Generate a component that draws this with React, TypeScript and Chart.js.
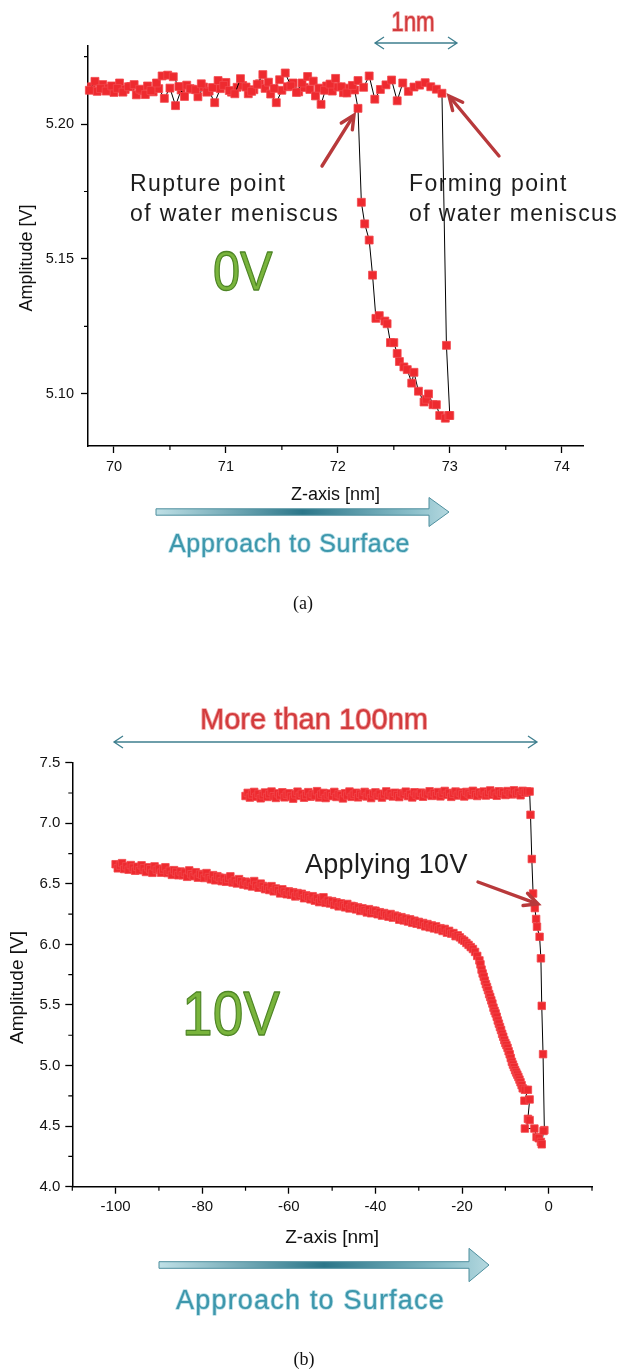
import React, { useEffect, useRef } from 'react';
import { Chart, registerables } from 'chart.js';

Chart.register(...registerables);

// ---------------- Panel (a): 0 V ----------------
const A_APPROACH_X = [
  69.78, 69.83, 69.88, 69.93, 69.98, 70.03, 70.08, 70.13, 70.18, 70.23,
  70.28, 70.33, 70.38, 70.43, 70.48, 70.53, 70.58, 70.63, 70.68, 70.73,
  70.78, 70.83, 70.88, 70.93, 70.98, 71.03, 71.08, 71.13, 71.18, 71.23,
  71.28, 71.33, 71.38, 71.43, 71.48, 71.53, 71.58, 71.63, 71.68, 71.73,
  71.78, 71.83, 71.88, 71.93, 71.98, 72.03, 72.08, 72.13, 72.18, 72.23,
  72.28, 72.33, 72.38, 72.43, 72.48, 72.53, 72.58, 72.63, 72.68, 72.73,
  72.78, 72.83, 72.88, 72.93, 72.97, 73.0,
];
const A_APPROACH_Y = [
  5.2125, 5.2158, 5.2131, 5.2122, 5.2141, 5.2132, 5.2118, 5.2138, 5.2146, 5.2129,
  5.2109, 5.2124, 5.2152, 5.2178, 5.2181, 5.2175, 5.2139, 5.2102, 5.2131, 5.2127,
  5.2149, 5.2118, 5.2135, 5.2161, 5.2143, 5.2124, 5.2112, 5.2168, 5.2137, 5.2121,
  5.2147, 5.2183, 5.2155, 5.2132, 5.2164, 5.2189, 5.2141, 5.2117, 5.2152, 5.2176,
  5.2159, 5.2133, 5.2125, 5.2148, 5.2169, 5.2138, 5.2115, 5.2143, 5.2161, 5.2136,
  5.2178, 5.2092, 5.2128, 5.2145, 5.2163, 5.2086, 5.2152, 5.2121, 5.2137, 5.2144,
  5.2153, 5.2138, 5.2129, 5.2114, 5.118, 5.092,
];
const A_RETRACT_X = [
  69.8, 69.85, 69.9, 69.95, 70.0, 70.05, 70.1, 70.15, 70.2, 70.25,
  70.3, 70.35, 70.4, 70.45, 70.5, 70.55, 70.6, 70.65, 70.7, 70.75,
  70.8, 70.85, 70.9, 70.95, 71.0, 71.05, 71.1, 71.15, 71.2, 71.25,
  71.3, 71.35, 71.4, 71.45, 71.5, 71.55, 71.6, 71.65, 71.7, 71.75,
  71.8, 71.85, 71.9, 71.95, 72.0, 72.05, 72.1, 72.15,
  72.18, 72.21, 72.24, 72.28, 72.31, 72.34, 72.37, 72.42, 72.44, 72.47,
  72.5, 72.53, 72.55, 72.59, 72.62, 72.66, 72.68, 72.72, 72.77, 72.79,
  72.81, 72.85, 72.88, 72.91, 72.96, 72.99,
];
const A_RETRACT_Y = [
  5.2138, 5.2121, 5.2146, 5.2133, 5.2117, 5.2152, 5.2128, 5.2139, 5.2108, 5.2124,
  5.2141, 5.2119, 5.2131, 5.2095, 5.2133, 5.2068, 5.2126, 5.2144, 5.2129, 5.2101,
  5.2137, 5.2122, 5.2079, 5.2131, 5.2154, 5.2118, 5.2136, 5.2143, 5.2112, 5.2127,
  5.2149, 5.2132, 5.2111, 5.2079, 5.2125, 5.2138, 5.2152, 5.2119, 5.2135, 5.2128,
  5.2104, 5.2073, 5.2141, 5.2122, 5.2137, 5.2116, 5.2133, 5.2126,
  5.2058, 5.171, 5.163, 5.157, 5.144, 5.128, 5.129, 5.127, 5.126, 5.119,
  5.119, 5.115, 5.112, 5.11, 5.109, 5.104, 5.108, 5.101, 5.097, 5.098,
  5.1, 5.096, 5.096, 5.092, 5.091, 5.092,
];
const A_X_TICKS = [70, 71, 72, 73, 74];
const A_Y_TICKS = [5.1, 5.15, 5.2];
const A_X_MINOR = [70.5, 71.5, 72.5, 73.5];
const A_Y_MINOR = [5.125, 5.175, 5.225];
const A_X_RANGE = [69.768, 74.19];
const A_Y_RANGE = [5.0807, 5.2289];

// ---------------- Panel (b): 10 V ----------------
const B_UPPER_X = [
  -70, -69.5, -69, -68.5, -68, -67.5, -67, -66.5, -66, -65.5,
  -65, -64.5, -64, -63.5, -63, -62.5, -62, -61.5, -61, -60.5,
  -60, -59.5, -59, -58.5, -58, -57.5, -57, -56.5, -56, -55.5,
  -55, -54.5, -54, -53.5, -53, -52.5, -52, -51.5, -51, -50.5,
  -50, -49.5, -49, -48.5, -48, -47.5, -47, -46.5, -46, -45.5,
  -45, -44.5, -44, -43.5, -43, -42.5, -42, -41.5, -41, -40.5,
  -40, -39.5, -39, -38.5, -38, -37.5, -37, -36.5, -36, -35.5,
  -35, -34.5, -34, -33.5, -33, -32.5, -32, -31.5, -31, -30.5,
  -30, -29.5, -29, -28.5, -28, -27.5, -27, -26.5, -26, -25.5,
  -25, -24.5, -24, -23.5, -23, -22.5, -22, -21.5, -21, -20.5,
  -20, -19.5, -19, -18.5, -18, -17.5, -17, -16.5, -16, -15.5,
  -15, -14.5, -14, -13.5, -13, -12.5, -12, -11.5, -11, -10.5,
  -10, -9.5, -9, -8.5, -8, -7.5, -7, -6.5, -6, -5.5,
  -5, -4.4,
  -4.2, -3.9, -3.6, -3.2, -2.9, -2.7, -2.1, -1.8, -1.6, -1.3, -1.0,
];
const B_UPPER_Y = [
  7.225, 7.251, 7.212, 7.238, 7.259, 7.219, 7.243, 7.206, 7.231, 7.254,
  7.217, 7.24, 7.262, 7.223, 7.209, 7.247, 7.229, 7.256, 7.214, 7.236,
  7.248, 7.221, 7.203, 7.239, 7.261, 7.226, 7.244, 7.211, 7.233, 7.257,
  7.219, 7.242, 7.228, 7.265, 7.213, 7.237, 7.251, 7.208, 7.231, 7.246,
  7.224, 7.259, 7.217, 7.241, 7.232, 7.205, 7.248, 7.229, 7.262, 7.218,
  7.237, 7.252, 7.214, 7.243, 7.227, 7.259, 7.221, 7.246, 7.208, 7.239,
  7.255, 7.226, 7.244, 7.212, 7.238, 7.263, 7.229, 7.247, 7.221, 7.252,
  7.233, 7.216, 7.249, 7.238, 7.261, 7.224, 7.242, 7.213, 7.256, 7.235,
  7.227, 7.253, 7.219, 7.246, 7.238, 7.264, 7.226, 7.249, 7.231, 7.258,
  7.222, 7.245, 7.267, 7.234, 7.251, 7.218, 7.243, 7.262, 7.229, 7.254,
  7.238, 7.221, 7.259, 7.246, 7.232, 7.268, 7.241, 7.225, 7.255, 7.237,
  7.262, 7.229, 7.248, 7.271, 7.236, 7.253, 7.227, 7.264, 7.244, 7.258,
  7.233, 7.266, 7.249, 7.238, 7.272, 7.245, 7.259, 7.231, 7.268, 7.252,
  7.263, 7.262,
  7.07, 6.705, 6.42, 6.3, 6.21, 6.146, 6.063, 5.885, 5.493, 5.094, 4.467,
];
const B_LOWER_X = [
  -100, -99.5, -99, -98.5, -98, -97.5, -97, -96.5, -96, -95.5,
  -95, -94.5, -94, -93.5, -93, -92.5, -92, -91.5, -91, -90.5,
  -90, -89.5, -89, -88.5, -88, -87.5, -87, -86.5, -86, -85.5,
  -85, -84.5, -84, -83.5, -83, -82.5, -82, -81.5, -81, -80.5,
  -80, -79.5, -79, -78.5, -78, -77.5, -77, -76.5, -76, -75.5,
  -75, -74.5, -74, -73.5, -73, -72.5, -72, -71.5, -71, -70.5,
  -70, -69.5, -69, -68.5, -68, -67.5, -67, -66.5, -66, -65.5,
  -65, -64.5, -64, -63.5, -63, -62.5, -62, -61.5, -61, -60.5,
  -60, -59.5, -59, -58.5, -58, -57.5, -57, -56.5, -56, -55.5,
  -55, -54.5, -54, -53.5, -53, -52.5, -52, -51.5, -51, -50.5,
  -50, -49.5, -49, -48.5, -48, -47.5, -47, -46.5, -46, -45.5,
  -45, -44.5, -44, -43.5, -43, -42.5, -42, -41.5, -41, -40.5,
  -40, -39.5, -39, -38.5, -38, -37.5, -37, -36.5, -36, -35.5,
  -35, -34.5, -34, -33.5, -33, -32.5, -32, -31.5, -31, -30.5,
  -30, -29.5, -29, -28.5, -28, -27.5, -27, -26.5, -26, -25.5,
  -25, -24.5, -24, -23.5, -23, -22.5, -22, -21.5, -21,
  -20.5, -20, -19.5, -19, -18.5, -18, -17.5, -17, -16.5,
  -16, -15.75, -15.5, -15.25, -15, -14.75, -14.5, -14.25, -14, -13.75,
  -13.5, -13.25, -13, -12.75, -12.5, -12.25, -12, -11.75, -11.5, -11.25,
  -11, -10.75, -10.5, -10.25, -10, -9.75, -9.5, -9.25, -9, -8.75,
  -8.5, -8.25, -8, -7.75, -7.5, -7.25, -7, -6.75, -6.5, -6.25, -6,
  -5.5, -4.8, -5.6, -4.4, -4.8, -4.4, -5.5, -3.3, -2.8, -2.3, -1.8, -1.6, -1.2,
];
const B_LOWER_Y = [
  6.662, 6.628, 6.651, 6.671, 6.622, 6.646, 6.617, 6.655, 6.634, 6.608,
  6.641, 6.612, 6.653, 6.629, 6.598, 6.637, 6.62, 6.591, 6.644, 6.615,
  6.626, 6.592, 6.618, 6.637, 6.589, 6.608, 6.574, 6.613, 6.598, 6.571,
  6.602, 6.571, 6.593, 6.558, 6.611, 6.579, 6.563, 6.596, 6.551, 6.582,
  6.574, 6.548, 6.589, 6.556, 6.537, 6.572, 6.529, 6.563, 6.551, 6.522,
  6.549, 6.517, 6.541, 6.562, 6.511, 6.528, 6.503, 6.539, 6.521, 6.494,
  6.518, 6.487, 6.509, 6.478, 6.523, 6.491, 6.468, 6.502, 6.483, 6.456,
  6.474, 6.449, 6.481, 6.438, 6.462, 6.447, 6.421, 6.455, 6.436, 6.414,
  6.438, 6.409, 6.431, 6.396, 6.424, 6.402, 6.418, 6.381, 6.405, 6.393,
  6.372, 6.398, 6.361, 6.384, 6.349, 6.371, 6.389, 6.343, 6.362, 6.338,
  6.357, 6.326, 6.348, 6.314, 6.339, 6.321, 6.306, 6.334, 6.297, 6.318,
  6.314, 6.289, 6.306, 6.276, 6.298, 6.281, 6.264, 6.291, 6.257, 6.279,
  6.278, 6.249, 6.266, 6.238, 6.259, 6.244, 6.229, 6.251, 6.221, 6.238,
  6.231, 6.204, 6.225, 6.198, 6.214, 6.189, 6.207, 6.178, 6.196, 6.171,
  6.186, 6.161, 6.177, 6.149, 6.168, 6.141, 6.157, 6.132, 6.149, 6.124,
  6.134, 6.111, 6.128, 6.097, 6.112, 6.089, 6.094, 6.068, 6.075,
  6.058, 6.041, 6.03, 6.012, 5.996, 5.978, 5.962, 5.938, 5.905,
  5.868, 5.835, 5.792, 5.76, 5.733, 5.701, 5.672, 5.648, 5.622, 5.59,
  5.566, 5.538, 5.512, 5.478, 5.452, 5.43, 5.403, 5.372, 5.346, 5.318,
  5.293, 5.262, 5.238, 5.21, 5.186, 5.168, 5.146, 5.118, 5.093, 5.062,
  5.031, 5.008, 4.986, 4.962, 4.943, 4.925, 4.906, 4.884, 4.862, 4.838, 4.812,
  4.8, 4.8, 4.71, 4.72, 4.56, 4.55, 4.48, 4.48, 4.41, 4.4, 4.37, 4.35, 4.46,
];
const B_X_TICKS = [-100, -80, -60, -40, -20, 0];
const B_Y_TICKS = [4.0, 4.5, 5.0, 5.5, 6.0, 6.5, 7.0, 7.5];
const B_X_MINOR = [-110, -90, -70, -50, -30, -10, 10];
const B_Y_MINOR = [4.25, 4.75, 5.25, 5.75, 6.25, 6.75, 7.25];
const B_X_RANGE = [-110, 10];
const B_Y_RANGE = [4.0, 7.5];

// ---------------- helpers ----------------
const FONT = '"Liberation Sans", Arial, Helvetica, sans-serif';
const SERIF = '"Liberation Serif", "Times New Roman", serif';
const zip = (xs: number[], ys: number[]) => xs.map((x, i) => ({ x, y: ys[i] }));

type TOpt = {
  size: number; color: string; family?: string; align?: CanvasTextAlign;
  baseline?: CanvasTextBaseline; sx?: number; sy?: number; ls?: number;
  stroke?: string; sw?: number; strokeAfter?: boolean; rotate?: number;
};
function drawText(ctx: CanvasRenderingContext2D, s: string, x: number, y: number, o: TOpt) {
  ctx.save();
  ctx.translate(x, y);
  if (o.rotate) ctx.rotate(o.rotate);
  ctx.scale(o.sx ?? 1, o.sy ?? 1);
  ctx.font = `${o.size}px ${o.family ?? FONT}`;
  ctx.textAlign = o.align ?? 'left';
  ctx.textBaseline = o.baseline ?? 'alphabetic';
  (ctx as any).letterSpacing = o.ls ? `${o.ls}px` : '0px';
  ctx.lineJoin = 'round';
  if (o.stroke && !o.strokeAfter) {
    ctx.lineWidth = o.sw ?? 1;
    ctx.strokeStyle = o.stroke;
    ctx.strokeText(s, 0, 0);
  }
  ctx.fillStyle = o.color;
  ctx.fillText(s, 0, 0);
  if (o.stroke && o.strokeAfter) {
    ctx.lineWidth = o.sw ?? 1;
    ctx.strokeStyle = o.stroke;
    ctx.strokeText(s, 0, 0);
  }
  ctx.restore();
}

function doubleArrow(ctx: CanvasRenderingContext2D, x1: number, x2: number, y: number) {
  ctx.save();
  ctx.strokeStyle = '#3f7f8f';
  ctx.lineWidth = 1.3;
  ctx.beginPath();
  ctx.moveTo(x1, y); ctx.lineTo(x2, y);
  ctx.moveTo(x1 + 9, y - 6); ctx.lineTo(x1, y); ctx.lineTo(x1 + 9, y + 6);
  ctx.moveTo(x2 - 9, y - 6); ctx.lineTo(x2, y); ctx.lineTo(x2 - 9, y + 6);
  ctx.stroke();
  ctx.restore();
}

function pointer(ctx: CanvasRenderingContext2D, x1: number, y1: number, x2: number, y2: number) {
  const a = Math.atan2(y2 - y1, x2 - x1);
  const L = 15, w = 0.45;
  ctx.save();
  ctx.strokeStyle = '#b8393b';
  ctx.lineWidth = 3.4;
  ctx.lineCap = 'round';
  ctx.lineJoin = 'miter';
  ctx.beginPath();
  ctx.moveTo(x1, y1); ctx.lineTo(x2 - Math.cos(a) * 2, y2 - Math.sin(a) * 2);
  ctx.stroke();
  ctx.beginPath();
  ctx.moveTo(x2 - L * Math.cos(a - w), y2 - L * Math.sin(a - w));
  ctx.lineTo(x2, y2);
  ctx.lineTo(x2 - L * Math.cos(a + w), y2 - L * Math.sin(a + w));
  ctx.stroke();
  ctx.restore();
}

function approachArrow(ctx: CanvasRenderingContext2D, x1: number, xb: number, xt: number, yc: number, sh: number, hh: number) {
  ctx.save();
  const g = ctx.createLinearGradient(x1, 0, xt, 0);
  g.addColorStop(0, '#bfe0e6');
  g.addColorStop(0.5, '#2b7689');
  g.addColorStop(0.88, '#8cc0cb');
  g.addColorStop(1, '#b4d8df');
  ctx.beginPath();
  ctx.moveTo(x1, yc - sh); ctx.lineTo(xb, yc - sh); ctx.lineTo(xb, yc - hh);
  ctx.lineTo(xt, yc); ctx.lineTo(xb, yc + hh); ctx.lineTo(xb, yc + sh);
  ctx.lineTo(x1, yc + sh); ctx.closePath();
  ctx.fillStyle = g;
  ctx.fill();
  ctx.strokeStyle = '#4f8f9e';
  ctx.lineWidth = 1;
  ctx.stroke();
  ctx.restore();
}

function minorTicks(xMinor: number[], yMinor: number[]) {
  return {
    id: 'minorTicks',
    afterDraw(chart: any) {
      const { ctx, chartArea, scales } = chart;
      ctx.save();
      ctx.strokeStyle = '#000';
      ctx.lineWidth = 1.2;
      ctx.beginPath();
      xMinor.forEach((v) => {
        const p = scales.x.getPixelForValue(v);
        ctx.moveTo(p, chartArea.bottom); ctx.lineTo(p, chartArea.bottom + 4);
      });
      yMinor.forEach((v) => {
        const p = scales.y.getPixelForValue(v);
        ctx.moveTo(chartArea.left, p); ctx.lineTo(chartArea.left - 4, p);
      });
      ctx.stroke();
      ctx.restore();
    },
  };
}

const seriesStyle = (r: number) => ({
  showLine: true,
  borderColor: '#000',
  borderWidth: 1,
  pointStyle: 'rect' as const,
  pointRadius: r,
  pointBackgroundColor: '#ee2a2f',
  pointBorderColor: '#f2484c',
  pointBorderWidth: 0.8,
  tension: 0,
  clip: false as const,
});

function axisOpts(o: {
  range: number[]; ticks: number[]; fmt: (v: number) => string; size: number; pad: number;
  fixed: number; horizontal: boolean; title?: string; titleSize?: number; titlePadBottom?: number;
}) {
  return {
    type: 'linear' as const,
    min: o.range[0],
    max: o.range[1],
    afterBuildTicks: (s: any) => { s.ticks = o.ticks.map((value) => ({ value })); },
    afterFit: (s: any) => { if (o.horizontal) s.height = o.fixed; else s.width = o.fixed; },
    ticks: {
      autoSkip: false, maxRotation: 0, includeBounds: false,
      color: '#111', padding: o.pad,
      font: { size: o.size, family: FONT },
      callback: (v: any) => o.fmt(Number(v)),
    },
    grid: { drawOnChartArea: false, drawTicks: true, tickLength: 7, tickColor: '#000', tickWidth: 1.3 },
    border: { display: true, color: '#000', width: 1.5 },
    title: o.title
      ? { display: true, text: o.title, color: '#111', font: { size: o.titleSize, family: FONT }, padding: { top: 0, bottom: o.titlePadBottom } }
      : { display: false },
  };
}

const annotationsA = {
  id: 'annotationsA',
  afterDraw(chart: any) {
    const ctx: CanvasRenderingContext2D = chart.ctx;
    drawText(ctx, 'Amplitude [V]', 27, 258, { size: 18, color: '#111', align: 'center', baseline: 'middle', rotate: -Math.PI / 2 });
    drawText(ctx, '1nm', 413, 31, { size: 26, color: '#d23b3d', align: 'center', sx: 0.86, sy: 1.05, stroke: 'rgba(240,150,150,0.9)', sw: 1.6 });
    doubleArrow(ctx, 375, 457, 43);
    drawText(ctx, 'Rupture point', 130, 191, { size: 23, color: '#1c1c1c', ls: 1.4 });
    drawText(ctx, 'of water meniscus', 130, 221, { size: 23, color: '#1c1c1c', ls: 1.4 });
    drawText(ctx, 'Forming point', 409, 191, { size: 23, color: '#1c1c1c', ls: 1.4 });
    drawText(ctx, 'of water meniscus', 409, 221, { size: 23, color: '#1c1c1c', ls: 1.4 });
    pointer(ctx, 322, 166, 354, 115);
    pointer(ctx, 499, 156, 449, 96);
    drawText(ctx, '0V', 213, 290, { size: 56, color: '#79b43c', sx: 0.87, stroke: '#4e8526', sw: 1.3, strokeAfter: true });
    approachArrow(ctx, 156, 429, 449, 512, 3.2, 14.5);
    drawText(ctx, 'Approach to Surface', 169, 552, { size: 25, color: '#3d97ac', ls: 0.7, stroke: 'rgba(170,215,225,0.9)', sw: 1.6 });
    drawText(ctx, '(a)', 303, 604, { size: 18, color: '#111', family: SERIF, align: 'center', baseline: 'middle' });
  },
};

const annotationsB = {
  id: 'annotationsB',
  afterDraw(chart: any) {
    const ctx: CanvasRenderingContext2D = chart.ctx;
    drawText(ctx, 'Amplitude [V]', 17.5, 347.5, { size: 19, color: '#111', align: 'center', baseline: 'middle', rotate: -Math.PI / 2 });
    drawText(ctx, 'More than 100nm', 314, 89, { size: 28, color: '#d23b3d', align: 'center', sx: 1.04, sy: 1.05, stroke: 'rgba(240,150,150,0.9)', sw: 1.6 });
    doubleArrow(ctx, 114, 537, 102);
    drawText(ctx, 'Applying 10V', 305, 233, { size: 27, color: '#1c1c1c', ls: 0.3 });
    pointer(ctx, 478, 242, 538, 264);
    drawText(ctx, '10V', 182, 395, { size: 63, color: '#79b43c', sx: 0.875, stroke: '#4e8526', sw: 1.3, strokeAfter: true });
    approachArrow(ctx, 159, 469, 489, 625, 3.3, 16.7);
    drawText(ctx, 'Approach to Surface', 176, 669, { size: 27, color: '#3d97ac', ls: 1.2, stroke: 'rgba(170,215,225,0.9)', sw: 1.6 });
    drawText(ctx, '(b)', 304, 720, { size: 18, color: '#111', family: SERIF, align: 'center', baseline: 'middle' });
  },
};

function Panel(props: { height: number; top: number; make: (c: HTMLCanvasElement) => Chart }) {
  const ref = useRef<HTMLCanvasElement | null>(null);
  useEffect(() => {
    if (!ref.current) return;
    const chart = props.make(ref.current);
    return () => chart.destroy();
  }, []);
  return (
    <canvas
      ref={ref}
      width={640}
      height={props.height}
      style={{ position: 'absolute', left: 0, top: props.top, width: 640, height: props.height, display: 'block' }}
    />
  );
}

function makeA(c: HTMLCanvasElement) {
  return new Chart(c, {
    type: 'line',
    data: {
      datasets: [
        { data: zip(A_APPROACH_X, A_APPROACH_Y), ...seriesStyle(5.6) },
        { data: zip(A_RETRACT_X, A_RETRACT_Y), ...seriesStyle(5.6) },
      ],
    },
    options: {
      responsive: false,
      animation: false,
      events: [],
      layout: { padding: { left: 0, top: 46, right: 57, bottom: 0 } },
      scales: {
        x: axisOpts({ range: A_X_RANGE, ticks: A_X_TICKS, fmt: (v) => String(v), size: 14.5, pad: 5, fixed: 194, horizontal: true, title: 'Z-axis [nm]', titleSize: 18, titlePadBottom: 134 }),
        y: axisOpts({ range: A_Y_RANGE, ticks: A_Y_TICKS, fmt: (v) => v.toFixed(2), size: 14.5, pad: 7, fixed: 88, horizontal: false }),
      },
      plugins: { legend: { display: false }, tooltip: { enabled: false } },
    } as any,
    plugins: [minorTicks(A_X_MINOR, A_Y_MINOR), annotationsA],
  });
}

function makeB(c: HTMLCanvasElement) {
  return new Chart(c, {
    type: 'line',
    data: {
      datasets: [
        { data: zip(B_LOWER_X, B_LOWER_Y), ...seriesStyle(5.3) },
        { data: zip(B_UPPER_X, B_UPPER_Y), ...seriesStyle(5.3) },
      ],
    },
    options: {
      responsive: false,
      animation: false,
      events: [],
      layout: { padding: { left: 0, top: 122.7, right: 48, bottom: 0 } },
      scales: {
        x: axisOpts({ range: B_X_RANGE, ticks: B_X_TICKS, fmt: (v) => String(v), size: 15, pad: 4, fixed: 182.3, horizontal: true, title: 'Z-axis [nm]', titleSize: 19, titlePadBottom: 119.5 }),
        y: axisOpts({ range: B_Y_RANGE, ticks: B_Y_TICKS, fmt: (v) => v.toFixed(1), size: 15, pad: 5, fixed: 72.3, horizontal: false }),
      },
      plugins: { legend: { display: false }, tooltip: { enabled: false } },
    } as any,
    plugins: [minorTicks(B_X_MINOR, B_Y_MINOR), annotationsB],
  });
}

export default function App() {
  return (
    <div style={{ position: 'absolute', left: 0, top: 0, width: 640, height: 1369, background: '#fff' }}>
      <Panel height={640} top={0} make={makeA} />
      <Panel height={729} top={640} make={makeB} />
    </div>
  );
}
